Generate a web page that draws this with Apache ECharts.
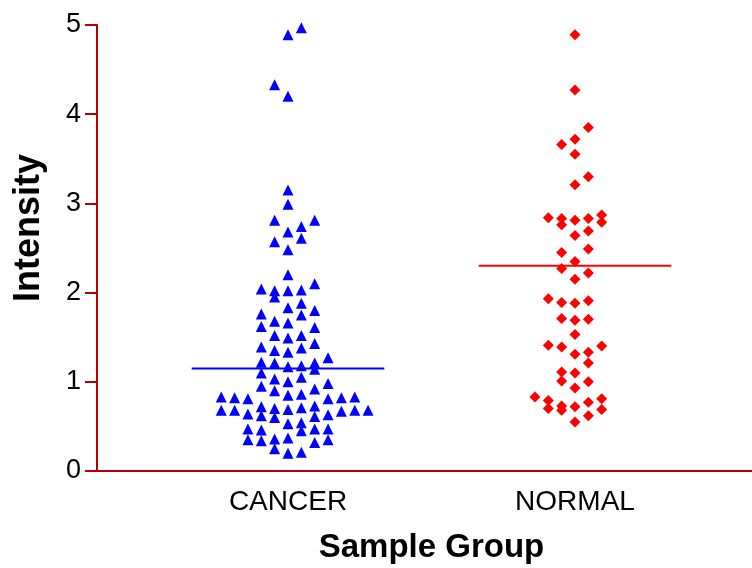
<!DOCTYPE html>
<html>
<head>
<meta charset="utf-8">
<script src="https://cdn.jsdelivr.net/npm/echarts@6/dist/echarts.min.js"></script>
<style>
  html, body { margin: 0; padding: 0; background: #fff; }
  #chart { width: 752px; height: 568px; }
</style>
</head>
<body>
<div id="chart"></div>
<script>
// Group names shown on the x axis
const groups = ['CANCER', 'NORMAL'];

// CANCER samples: intensity and the side-by-side slot used to spread equal values
const cancerIntensity = [
  0.83, 0.68,
  0.82, 0.68,
  0.81, 0.64, 0.47, 0.35,
  2.04, 1.76, 1.62, 1.39, 1.22, 1.10, 0.95, 0.72, 0.62, 0.46, 0.34,
  4.33, 2.81, 2.57, 2.02, 1.95, 1.68, 1.52, 1.35, 1.21, 1.03, 0.90, 0.70, 0.60, 0.36, 0.25,
  4.89, 4.20, 3.15, 2.99, 2.68, 2.48, 2.20, 2.02, 1.83, 1.66, 1.49, 1.33, 1.17, 1.00, 0.85, 0.69, 0.53, 0.37, 0.20,
  4.97, 2.74, 2.61, 2.03, 1.88, 1.75, 1.52, 1.38, 1.18, 1.05, 0.86, 0.71, 0.54, 0.45, 0.21,
  2.81, 2.10, 1.80, 1.61, 1.43, 1.21, 1.14, 0.92, 0.73, 0.61, 0.47, 0.32,
  1.27, 0.98, 0.81, 0.63, 0.47, 0.35,
  0.82, 0.67,
  0.83, 0.68,
  0.68
];
const cancerSlot = [
  -5, -5,
  -4, -4,
  -3, -3, -3, -3,
  -2, -2, -2, -2, -2, -2, -2, -2, -2, -2, -2,
  -1, -1, -1, -1, -1, -1, -1, -1, -1, -1, -1, -1, -1, -1, -1,
  0, 0, 0, 0, 0, 0, 0, 0, 0, 0, 0, 0, 0, 0, 0, 0, 0, 0, 0,
  1, 1, 1, 1, 1, 1, 1, 1, 1, 1, 1, 1, 1, 1, 1,
  2, 2, 2, 2, 2, 2, 2, 2, 2, 2, 2, 2,
  3, 3, 3, 3, 3, 3,
  4, 4,
  5, 5,
  6
];

// NORMAL samples
const normalIntensity = [
  4.89, 4.27, 3.72, 3.55, 3.21, 2.81, 2.64, 2.35, 2.15, 1.88, 1.69, 1.53, 1.31, 1.10, 0.93, 0.72, 0.55,
  3.85, 3.30, 2.83, 2.69, 2.49, 2.22, 1.91, 1.70, 1.33, 1.21, 1.00, 0.77, 0.62,
  3.66, 2.83, 2.76, 2.45, 2.27, 1.89, 1.71, 1.39, 1.11, 1.01, 0.73, 0.68,
  2.84, 1.93, 1.41, 0.79, 0.70,
  2.87, 2.79, 1.40, 0.81, 0.69,
  0.83
];
const normalSlot = [
  0, 0, 0, 0, 0, 0, 0, 0, 0, 0, 0, 0, 0, 0, 0, 0, 0,
  1, 1, 1, 1, 1, 1, 1, 1, 1, 1, 1, 1, 1,
  -1, -1, -1, -1, -1, -1, -1, -1, -1, -1, -1, -1,
  -2, -2, -2, -2, -2,
  2, 2, 2, 2, 2,
  -3
];

// Horizontal summary line for each group
const groupLevel = [1.15, 2.30];

// Y axis tick labels
const yTicks = [0, 1, 2, 3, 4, 5];

// Layout constants (x axis units: one unit between group centres)
const slotWidth = 0.0465;
const lineHalfWidth = 0.3355;
const axisColor = '#b00000';

function points(groupIndex, values, slots) {
  const centre = groupIndex + 1;
  return values.map((v, i) => [centre + slots[i] * slotWidth, v]);
}

function levelLine(groupIndex) {
  const centre = groupIndex + 1;
  return [[centre - lineHalfWidth, groupLevel[groupIndex]], [centre + lineHalfWidth, groupLevel[groupIndex]]];
}

const chart = echarts.init(document.getElementById('chart'), null, { renderer: 'canvas' });

chart.setOption({
  animation: false,
  backgroundColor: '#ffffff',
  grid: { left: 97, right: 0, top: 25, bottom: 97, containLabel: false, outerBoundsMode: 'none' },
  xAxis: {
    type: 'value',
    min: 0.3345,
    max: 2.6167,
    name: 'Sample Group',
    nameLocation: 'middle',
    nameGap: 60,
    nameTextStyle: {
      fontFamily: 'Liberation Sans, Arial, sans-serif',
      fontWeight: 'bold',
      fontSize: 33,
      color: '#000',
      padding: [0, 0, 0, 14]
    },
    axisLine: { show: true, lineStyle: { color: axisColor, width: 2 } },
    axisTick: { show: false },
    splitLine: { show: false },
    axisLabel: {
      customValues: [1, 2],
      formatter: v => groups[Math.round(v) - 1],
      fontFamily: 'Liberation Sans, Arial, sans-serif',
      fontSize: 28,
      color: '#000',
      margin: 17
    }
  },
  yAxis: {
    type: 'value',
    min: 0,
    max: 5,
    interval: 1,
    name: 'Intensity',
    nameLocation: 'middle',
    nameRotate: 90,
    nameGap: 50,
    nameTextStyle: {
      fontFamily: 'Liberation Sans, Arial, sans-serif',
      fontWeight: 'bold',
      fontSize: 36,
      color: '#000',
      padding: [0, 0, 0, 40]
    },
    axisLine: { show: true, lineStyle: { color: axisColor, width: 2 } },
    axisTick: { show: true, inside: false, length: 12, lineStyle: { color: axisColor, width: 2 } },
    splitLine: { show: false },
    axisLabel: {
      formatter: v => (yTicks.includes(v) ? String(v) : ''),
      fontFamily: 'Liberation Sans, Arial, sans-serif',
      fontSize: 27,
      color: '#000',
      margin: 16
    }
  },
  series: [
    {
      name: groups[0],
      type: 'scatter',
      symbol: 'triangle',
      symbolSize: 11,
      itemStyle: { color: '#0000ff', opacity: 1 },
      data: points(0, cancerIntensity, cancerSlot),
      z: 3
    },
    {
      name: groups[1],
      type: 'scatter',
      symbol: 'diamond',
      symbolSize: 11,
      itemStyle: { color: '#ff0000', opacity: 1 },
      data: points(1, normalIntensity, normalSlot),
      z: 3
    },
    {
      type: 'line',
      symbol: 'none',
      silent: true,
      lineStyle: { color: '#0000ff', width: 2 },
      data: levelLine(0),
      z: 4
    },
    {
      type: 'line',
      symbol: 'none',
      silent: true,
      lineStyle: { color: '#ff0000', width: 2 },
      data: levelLine(1),
      z: 4
    }
  ]
});
</script>
</body>
</html>
